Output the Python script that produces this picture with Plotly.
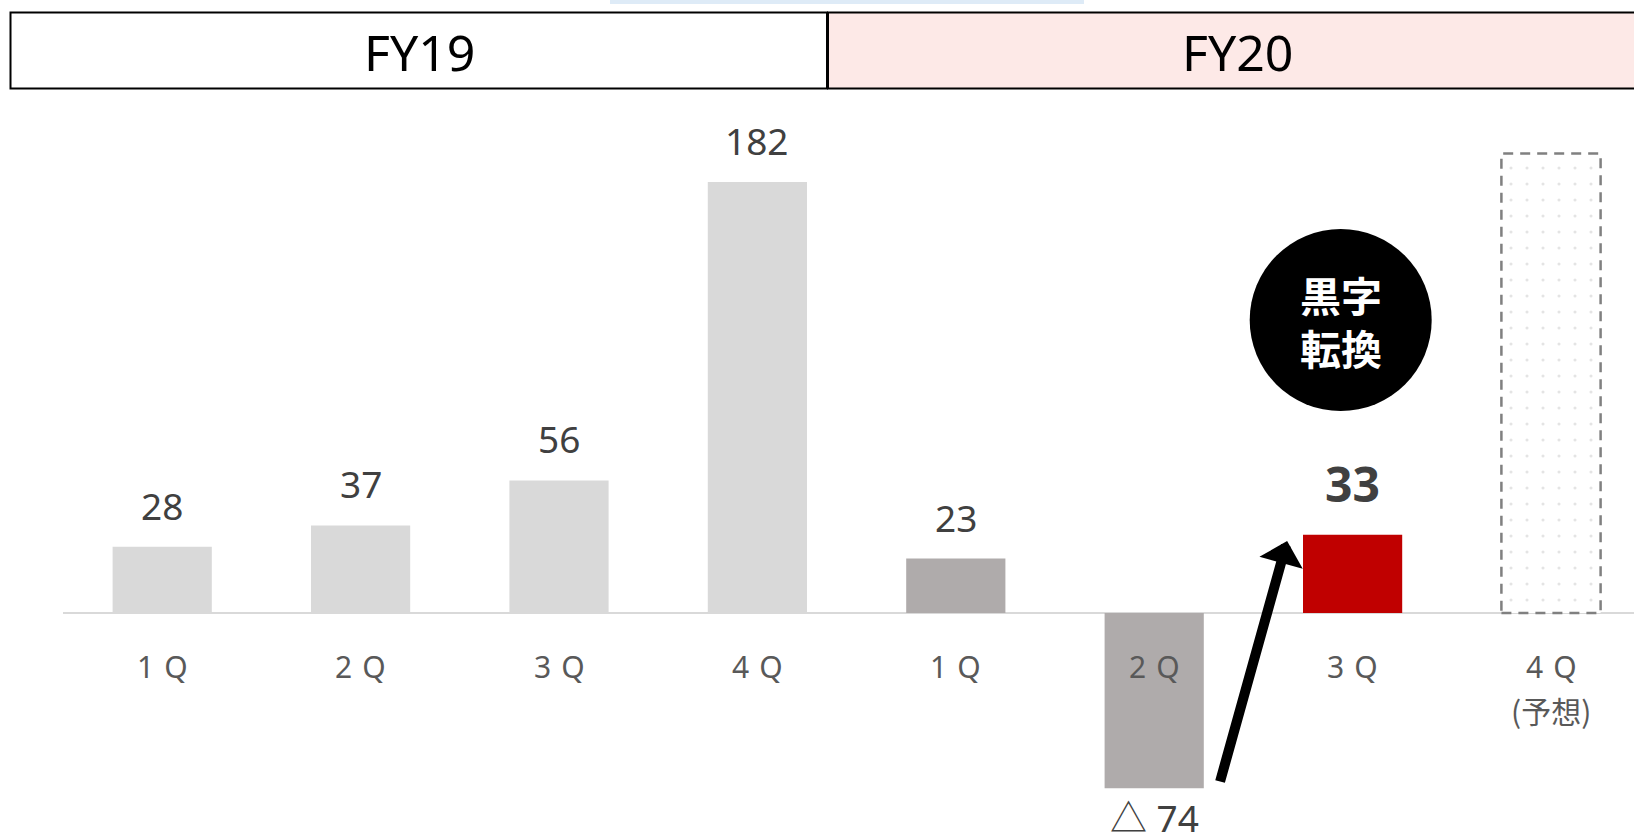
import plotly.graph_objects as go

# ---- data -------------------------------------------------------------
fiscal_years = ["FY19", "FY20"]
quarter_labels = ["1Q", "2Q", "3Q", "4Q", "1Q", "2Q", "3Q", "4Q"]
fy19_profit = [28, 37, 56, 182]
fy20_profit = [23, -74, 33]
fy20_4q_forecast = 194
forecast_note = "(予想)"
turnaround_text = "黒字<br>転換"

# ---- page geometry ----------------------------------------------------
W, H = 1634, 836
LEFT = 63
PLOT_W = W - LEFT
SLOT_PX = 198.4             # width of one quarter slot
BASE_PX = 613               # pixel row of the zero line
UNIT_PX = 2.368             # pixels per unit of profit

x_lo = -0.5
x_hi = x_lo + PLOT_W / SLOT_PX
y_hi = BASE_PX / UNIT_PX
y_lo = -(H - BASE_PX) / UNIT_PX

x19 = list(range(len(fy19_profit)))
x20 = [len(fy19_profit) + i for i in range(len(fy20_profit))]
x_fc = len(fy19_profit) + len(fy20_profit)
all_x = x19 + x20 + [x_fc]

LATIN = "Noto Sans, Noto Sans CJK JP, sans-serif"
CJK = "Noto Sans CJK JP, Noto Sans, sans-serif"
BAR_W = 0.5


def fmt(v):
    return f"△ {abs(v)}" if v < 0 else str(v)


def spaced(label):
    # quarter labels are set with a little extra letter spacing
    return "\u2004".join(label)


fig = go.Figure()

# FY19 quarters
fig.add_trace(go.Bar(
    x=x19, y=fy19_profit, width=BAR_W,
    marker=dict(color="#d9d9d9", line=dict(width=0)),
    hoverinfo="skip",
))

# FY20 actual quarters (3Q highlighted)
fy20_colors = ["#afabab", "#afabab", "#c00000"]
fig.add_trace(go.Bar(
    x=x20, y=fy20_profit, width=BAR_W,
    marker=dict(color=fy20_colors, line=dict(width=0)),
    hoverinfo="skip",
))

# FY20 4Q forecast: dotted fill
fig.add_trace(go.Bar(
    x=[x_fc], y=[fy20_4q_forecast], width=BAR_W,
    marker=dict(
        color="white",
        line=dict(width=0),
        pattern=dict(shape=".", fgcolor="#c9c9c9", bgcolor="white",
                     size=16, solidity=0.03),
    ),
    hoverinfo="skip",
))

shapes = []
# dashed outline of the forecast bar
shapes.append(dict(
    type="rect", xref="x", yref="y",
    x0=x_fc - BAR_W / 2, x1=x_fc + BAR_W / 2, y0=0, y1=fy20_4q_forecast,
    line=dict(color="#808080", width=2.5, dash="10px,7px"),
    fillcolor="rgba(0,0,0,0)", layer="above",
))


def px_x(px):
    return (px - LEFT) / PLOT_W


def px_y(py):
    return 1 - py / H


# thin light-blue strip at the very top
shapes.append(dict(
    type="rect", xref="paper", yref="paper",
    x0=px_x(610), x1=px_x(1084), y0=px_y(4), y1=px_y(0),
    line=dict(width=0), fillcolor="#deebf7", layer="above",
))

# fiscal-year header boxes
header_boxes = [(10.5, 827, "white"), (828, 1640, "#fde9e7")]
for (a, b, fill) in header_boxes:
    shapes.append(dict(
        type="rect", xref="paper", yref="paper",
        x0=px_x(a), x1=px_x(b), y0=px_y(88.5), y1=px_y(12.5),
        line=dict(color="black", width=2), fillcolor=fill, layer="above",
    ))

# black badge
shapes.append(dict(
    type="circle", xref="x", yref="y",
    xsizemode="pixel", ysizemode="pixel",
    xanchor=x20[2] - 0.06, yanchor=123.7,
    x0=-91, x1=91, y0=-91, y1=91,
    fillcolor="black", line=dict(width=0), layer="above",
))

annotations = []

# header texts
header_centers = [419, 1237]
for fy, cx in zip(fiscal_years, header_centers):
    annotations.append(dict(
        text=fy, xref="paper", yref="paper",
        x=px_x(cx), y=px_y(52), xanchor="center", yanchor="middle",
        showarrow=False, font=dict(family=LATIN, size=50, color="black"),
    ))

# value labels
values = fy19_profit + fy20_profit
xs = x19 + x20
for x, v in zip(xs, values):
    bold = (x == x20[2])
    if v >= 0:
        annotations.append(dict(
            text=f"<b>{fmt(v)}</b>" if bold else fmt(v),
            x=x, y=v, xref="x", yref="y",
            xanchor="center", yanchor="bottom",
            yshift=17 if bold else 14,
            showarrow=False,
            font=dict(family=LATIN, size=48 if bold else 37, color="#404040"),
        ))
    else:
        annotations.append(dict(
            text=fmt(v), x=x, y=v, xref="x", yref="y",
            xanchor="center", yanchor="top", yshift=-2,
            showarrow=False,
            font=dict(family=LATIN, size=37, color="#404040"),
        ))

# quarter labels
for x, q in zip(all_x, quarter_labels):
    annotations.append(dict(
        text=spaced(q), x=x, y=0, xref="x", yref="y",
        xanchor="center", yanchor="middle", yshift=-53,
        showarrow=False,
        font=dict(family=LATIN, size=30, color="#595959"),
    ))
annotations.append(dict(
    text=forecast_note, x=x_fc, y=0, xref="x", yref="y",
    xanchor="center", yanchor="middle", yshift=-97,
    showarrow=False,
    font=dict(family=CJK, size=30, color="#595959"),
))

# badge text
annotations.append(dict(
    text=f"<b>{turnaround_text}</b>", x=x20[2] - 0.06, y=123.7,
    xref="x", yref="y", xanchor="center", yanchor="middle",
    showarrow=False,
    font=dict(family=CJK, size=41, color="white"),
))

# upward arrow from 2Q to 3Q
annotations.append(dict(
    text="", xref="x", yref="y", axref="x", ayref="y",
    x=x20[2] - 0.33, y=fy20_profit[2] * 0.92,
    ax=x20[1] + 0.33, ay=fy20_profit[1] * 0.97,
    showarrow=True, arrowhead=1, arrowsize=0.75, arrowwidth=10,
    arrowcolor="black", standoff=0, startstandoff=0,
))

fig.update_layout(
    width=W, height=H,
    margin=dict(l=LEFT, r=0, t=0, b=0),
    paper_bgcolor="white", plot_bgcolor="white",
    showlegend=False, barmode="overlay",
    xaxis=dict(range=[x_lo, x_hi], visible=False, fixedrange=True),
    yaxis=dict(range=[y_lo, y_hi], showgrid=False, showticklabels=False,
               zeroline=True, zerolinecolor="#d9d9d9", zerolinewidth=2,
               fixedrange=True),
    shapes=shapes,
    annotations=annotations,
)

fig.write_html("out.html", config={"displayModeBar": False})
